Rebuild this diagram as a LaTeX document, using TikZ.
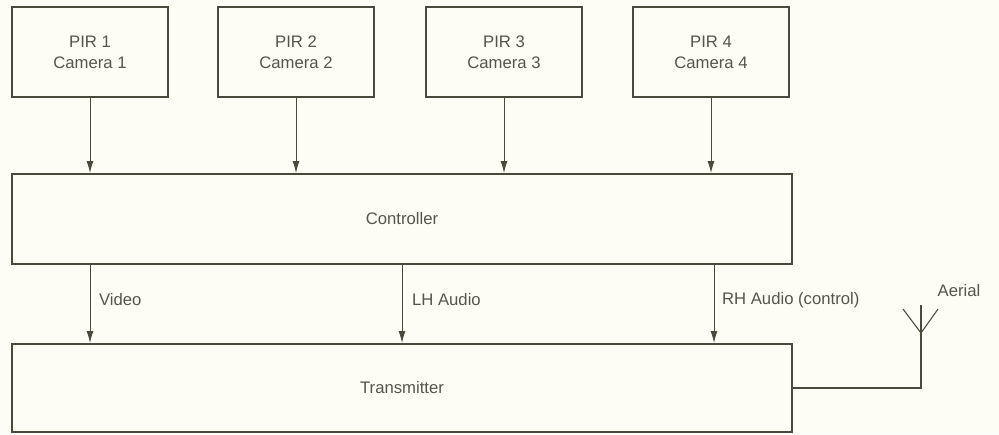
\documentclass[tikz,border=0pt]{standalone}
\usepackage{fontspec}
\setsansfont{Liberation Sans}
\usepackage{tikz}
\usetikzlibrary{positioning, arrows.meta, calc}
\definecolor{linegray}{HTML}{4A4A3C}
\definecolor{textgray}{HTML}{55554A}
\definecolor{paper}{HTML}{FDFDF6}
\tikzset{
  unit/.style={rectangle, draw=linegray, line width=1.1pt, text=textgray, align=center, font=\sffamily\fontsize{9.5}{12}\selectfont},
  bus/.style={rectangle, draw=linegray, line width=1.1pt, text=textgray, minimum width=15.6cm, font=\sffamily\fontsize{9.5}{12}\selectfont},
  arrow/.style={draw=linegray, line width=0.5pt, -{Latex[length=2.4mm, width=1.4mm]}},
  lbl/.style={text=textgray, font=\sffamily\fontsize{9.5}{12}\selectfont, inner sep=1pt}
}

\begin{document}
\begin{tikzpicture}

    % fondo
    \fill[paper] (0,0) rectangle (19.98,8.68);
    \useasboundingbox (0,0) rectangle (19.98,8.68);

    % 1. Camaras
    \node[unit, minimum width=3.12cm, minimum height=1.8cm] (pir1) at (1.8, 7.64) {PIR 1\\Camera 1};
    \node[unit, minimum width=3.12cm, minimum height=1.8cm] (pir2) at (5.92, 7.64) {PIR 2\\Camera 2};
    \node[unit, minimum width=3.12cm, minimum height=1.8cm] (pir3) at (10.08, 7.64) {PIR 3\\Camera 3};
    \node[unit, minimum width=3.12cm, minimum height=1.8cm] (pir4) at (14.22, 7.64) {PIR 4\\Camera 4};

    % 2. Controlador y transmisor
    \node[bus, minimum height=1.8cm] (ctrl) at (8.04, 4.30) {Controller};
    \node[bus, minimum height=1.76cm] (tx) at (8.04, 0.92) {Transmitter};

    % 3. Flechas de las camaras
    \foreach \n in {1,2,3,4} {
        \draw[arrow] (pir\n.south) -- (pir\n.south |- ctrl.north);
    }

    % 4. Senales hacia el transmisor
    \coordinate (vid) at (1.8, 0);
    \coordinate (lha) at (8.04, 0);
    \coordinate (rha) at (14.28, 0);
    \draw[arrow] (ctrl.south -| vid) -- (tx.north -| vid);
    \draw[arrow] (ctrl.south -| lha) -- (tx.north -| lha);
    \draw[arrow] (ctrl.south -| rha) -- (tx.north -| rha);
    \node[lbl, anchor=west] (vidl) at (1.94, 2.68) {Video};
    \node[lbl, anchor=west] (lhal) at (8.2, 2.68) {LH Audio};
    \node[lbl, anchor=west] (rhal) at (14.4, 2.68) {RH Audio (control)};

    % 5. Antena
    \coordinate (aerbase) at (18.42, 0.92);
    \coordinate (aertop) at (18.42, 2.58);
    \coordinate (aerv) at (18.42, 2.02);
    \draw[linegray, line width=0.6pt] (tx.east) -- (aerbase) -- (aertop);
    \draw[linegray, line width=0.6pt] (18.06, 2.5) -- (aerv) -- (18.76, 2.5);
    \node[lbl] (aerl) at (19.18, 2.86) {Aerial};

\end{tikzpicture}
\end{document}
